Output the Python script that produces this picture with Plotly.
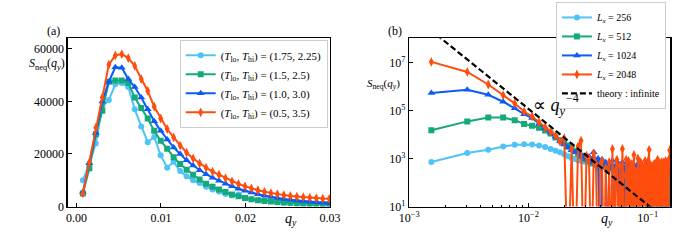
import plotly.graph_objects as go

# ---------------- data: panel (a) ----------------
q_a = [0.000767, 0.001534, 0.002301, 0.003068, 0.003835, 0.004602, 0.005369, 0.006136,
       0.006903, 0.00767, 0.008437, 0.009204, 0.009971, 0.010738, 0.011505, 0.012272,
       0.013039, 0.013806, 0.014573, 0.01534, 0.016107, 0.016874, 0.017641, 0.018408,
       0.019175, 0.019942, 0.020709, 0.021476, 0.022243, 0.02301, 0.023777, 0.024544,
       0.025311, 0.026078, 0.026845, 0.027612, 0.028379, 0.029146, 0.029913]

S_a_175 = [10000, 16400, 24000, 38000, 40500, 46500, 47000, 45500, 37000, 30500,
           24500, 26500, 19500, 14800, 17000, 13500, 11500, 10000, 9000, 7500,
           6500, 5700, 4800, 4200, 4600, 3300, 2800, 2400, 2600, 2000,
           1700, 1500, 1300, 1200, 1100, 1000, 1000, 900, 850]
S_a_15 = [5000, 14600, 27500, 36500, 47500, 48000, 48000, 47000, 41500, 37500,
          33500, 28800, 25000, 22000, 18800, 16200, 14000, 12100, 10300, 8700,
          7500, 6500, 5500, 4600, 3900, 3300, 2800, 2400, 2100, 1900,
          1700, 1550, 1400, 1300, 1200, 1100, 1050, 1000, 950]
S_a_10 = [5500, 16500, 28000, 40000, 47500, 53000, 52800, 48500, 45500, 41500,
          37000, 32500, 28800, 25500, 22500, 20000, 17600, 15600, 13800, 12300,
          11000, 9800, 8700, 7700, 6800, 6000, 5300, 4700, 4200, 3700,
          3300, 2900, 2600, 2300, 2050, 1800, 1600, 1400, 1250]
S_a_05 = [5000, 16800, 30000, 41500, 54000, 57500, 58000, 56500, 53500, 48500,
          44000, 38000, 33500, 29500, 26300, 23200, 20500, 18300, 16400, 14800,
          13300, 12100, 10800, 9600, 8600, 7700, 6900, 6200, 5600, 5100,
          4700, 4350, 4050, 3800, 3550, 3350, 3200, 3050, 2950]

labels_a = ["(<i>T</i><sub>lo</sub>, <i>T</i><sub>hi</sub>) = (1.75, 2.25)",
            "(<i>T</i><sub>lo</sub>, <i>T</i><sub>hi</sub>) = (1.5, 2.5)",
            "(<i>T</i><sub>lo</sub>, <i>T</i><sub>hi</sub>) = (1.0, 3.0)",
            "(<i>T</i><sub>lo</sub>, <i>T</i><sub>hi</sub>) = (0.5, 3.5)"]

# ---------------- data: panel (b) ----------------
q_b = [0.001534, 0.003068, 0.004602, 0.006136, 0.00767, 0.009204, 0.010738, 0.012272, 0.013806, 0.01534,
       0.016874, 0.018408, 0.019942, 0.021476, 0.02301, 0.024544, 0.026078, 0.027612, 0.029146, 0.03068,
       0.032214, 0.033748, 0.035282, 0.036816, 0.03835, 0.039884, 0.041418, 0.042952, 0.044486, 0.04602,
       0.047554, 0.049088, 0.050622, 0.052156, 0.05369, 0.055224, 0.056758, 0.058292, 0.059826, 0.06136,
       0.062894, 0.064428, 0.065962, 0.067496, 0.06903, 0.070564, 0.072098, 0.073632, 0.075166, 0.0767,
       0.078234, 0.079768, 0.081302, 0.082836, 0.08437, 0.085904, 0.087438, 0.088972, 0.090506, 0.09204,
       0.093574, 0.095108, 0.096642, 0.098176, 0.09971, 0.101244, 0.102778, 0.104312, 0.105846, 0.10738,
       0.108914, 0.110448, 0.111982, 0.113516, 0.11505, 0.116584, 0.118118, 0.119652, 0.121186, 0.12272,
       0.124254, 0.125788, 0.127322, 0.128856, 0.13039, 0.131924, 0.133458, 0.134992, 0.136526, 0.13806,
       0.139594, 0.141128, 0.142662, 0.144196, 0.14573, 0.147264, 0.148798, 0.150332, 0.151866, 0.1534]

S_b_256 = [710, 1700, 2300, 3150, 3700, 3900, 3800, 3500, 3000, 2500,
           2100, 1800, 1500, 1250, 1050, 950, 850, 800, 750, 700,
           650, 600, 620, 550, 500, 560, 480, 450, 520, 420,
           460, 400, 380, 440, 350, 400, 360, 420, 330, 380,
           350, 300, 400, 340, 280, 360, 320, 300, 380, 260,
           340, 300, 280, 360, 250, 320, 300, 270, 350, 240,
           310, 290, 260, 340, 230, 300, 280, 250, 320, 220,
           300, 270, 240, 310, 220, 290, 260, 230, 300, 210,
           280, 250, 230, 300, 200, 270, 240, 220, 290, 200,
           260, 240, 210, 280, 190, 250, 230, 200, 270, 190]
S_b_512 = [1.49e4, 3.5e4, 5.1e4, 5.1e4, 3.9e4, 2.75e4, 2.3e4, 1.9e4, 1.45e4, 1.1e4,
           7500, 5800, 4500, 3500, 2600, 2000, 1600, 1300, 1050, 900,
           800, 700, 650, 560, 620, 500, 540, 450, 480, 400,
           450, 380, 420, 350, 400, 330, 380, 300, 360, 320,
           -100, 340, 300, 280, 350, 260, 310, 290, -150, 320,
           270, 300, 250, 330, 280, -100, 300, 260, 240, 310,
           270, 250, 290, -120, 260, 300, 240, 280, 230, 270,
           -80, 260, 240, 290, 220, 250, 270, -100, 240, 260,
           230, 280, 210, 250, -90, 240, 260, 220, 250, 230,
           270, -110, 220, 250, 240, 210, 260, 230, -100, 240]
S_b_1024 = [5.3e5, 7.2e5, 4.5e5, 2.3e5, 1.23e5, 7.0e4, 4.8e4, 2.8e4, 1.8e4, 1.17e4,
            8000, 5200, 3800, 2800, 2200, 1800, 2000, 1300, 1100, 900,
            1200, 700, 1800, 600, 1000, -200, 900, 500, 700, -100,
            600, 400, 800, -300, 500, 300, 600, -200, 400, 700,
            300, -100, 500, 400, 200, 600, -300, 350, 500, 250,
            -200, 450, 300, 600, -100, 400, 250, 500, -300, 350,
            450, 200, 550, -150, 300, 400, 250, -200, 500, 350,
            200, 450, -100, 300, 550, 250, 400, -300, 350, 200,
            500, 300, -200, 450, 250, 380, -100, 300, 420, 260,
            -250, 350, 480, 220, 300, -150, 400, 280, 350, 450]
S_b_2048 = [1.05e7, 4.0e6, 1.2e6, 4.3e5, 1.95e5, 9.0e4, 5.6e4, 3.2e4, 2.0e4, 1.3e4,
            9000, 5000, 7000, -800, 2500, -500, 3200, 5500, -400, 1300,
            1000, -300, 1600, 600, -200, 500, 800, -300, 400, -100,
            700, -400, 2500, -200, 300, 900, -500, 500, -300, 2500,
            200, -400, 900, -200, 800, -600, 400, 600, -300, 1400,
            -100, 300, -500, 1000, 200, -300, 700, -200, 500, -400,
            300, 800, -600, 400, -200, 800, 2300, -300, 500, -100,
            500, -400, 300, 600, -500, 600, 200, -300, 900, -200,
            400, 600, -400, 250, 700, -300, 500, 700, -100, 300,
            -500, 800, 400, -200, 700, 300, -400, 900, 500, 2200]

labels_b = ["<i>L</i><sub><i>x</i></sub> = 256", "<i>L</i><sub><i>x</i></sub> = 512",
            "<i>L</i><sub><i>x</i></sub> = 1024", "<i>L</i><sub><i>x</i></sub> = 2048"]

theory_q = [0.0017, 0.12]
theory_S = [1.40e8, 5.64]

colors = ["#4FC3F7", "#14A97A", "#0B5CF5", "#FF4D0D"]
symbols = ["circle", "square", "triangle-up", "diamond-tall"]
msizes = [6, 6, 7, 7]

FONT = "Liberation Serif"

W, H = 692, 242
def fx(px):
    return px / W
def fy(py):
    return 1 - py / H

fig = go.Figure()

series_a = [S_a_175, S_a_15, S_a_10, S_a_05]
for s, lab, c, sym, ms in zip(series_a, labels_a, colors, symbols, msizes):
    fig.add_trace(go.Scatter(x=q_a, y=s, mode="lines+markers", name=lab,
                             line=dict(color=c, width=2),
                             marker=dict(symbol=sym, size=ms, color=c),
                             xaxis="x", yaxis="y", legend="legend"))

series_b = [S_b_256, S_b_512, S_b_1024, S_b_2048]
for s, lab, c, sym, ms in zip(series_b, labels_b, colors, symbols, msizes):
    yplot = [v if v > 0 else 1e-2 for v in s]  # non-positive values clipped like matplotlib
    fig.add_trace(go.Scatter(x=q_b, y=yplot, mode="lines+markers", name=lab,
                             line=dict(color=c, width=2),
                             marker=dict(symbol=sym, size=ms, color=c),
                             xaxis="x2", yaxis="y2", legend="legend2"))

fig.add_trace(go.Scatter(x=theory_q, y=theory_S, mode="lines", name="theory : infinite",
                         line=dict(color="black", width=2.2, dash="6px,3px"),
                         xaxis="x2", yaxis="y2", legend="legend2"))

axis_common = dict(showline=True, linecolor="black", linewidth=1.3, mirror=True,
                   ticks="inside", ticklen=4, tickcolor="black", showgrid=False, zeroline=False,
                   tickfont=dict(family=FONT, size=12, color="black"))

ydom = [fy(212.7), fy(39.5)]
fig.update_layout(
    width=W, height=H,
    margin=dict(l=0, r=0, t=0, b=0),
    paper_bgcolor="white", plot_bgcolor="white",
    font=dict(family=FONT, size=12, color="black"),
    xaxis=dict(domain=[fx(59.5), fx(330)], range=[-0.00103, 0.03],
               tickvals=[0.0, 0.01, 0.02, 0.03], ticktext=["0.00", "0.01", "0.02", "0.03"],
               anchor="y", **axis_common),
    yaxis=dict(domain=ydom, range=[0, 64000],
               tickvals=[0, 20000, 40000, 60000], ticktext=["0", "20000", "40000", "60000"],
               anchor="x", **axis_common),
    xaxis2=dict(domain=[fx(411.7), fx(681)], type="log", range=[-3, -0.81],
                tickvals=[1e-3, 1e-2, 1e-1],
                ticktext=["10<sup>−3</sup>", "10<sup>−2</sup>", "10<sup>−1</sup>"],
                minor=dict(ticks="inside", ticklen=2, tickcolor="black",
                           tickvals=[2e-3, 3e-3, 4e-3, 5e-3, 6e-3, 7e-3, 8e-3, 9e-3,
                                     2e-2, 3e-2, 4e-2, 5e-2, 6e-2, 7e-2, 8e-2, 9e-2]),
                anchor="y2", **axis_common),
    yaxis2=dict(domain=ydom, type="log", range=[1, 8],
                tickvals=[1e1, 1e3, 1e5, 1e7],
                ticktext=["10<sup>1</sup>", "10<sup>3</sup>", "10<sup>5</sup>", "10<sup>7</sup>"],
                anchor="x2", **axis_common),
    legend=dict(x=fx(175), y=fy(41), xanchor="left", yanchor="top",
                bgcolor="white", bordercolor="#CCCCCC", borderwidth=1,
                font=dict(family=FONT, size=11), tracegroupgap=0,
                itemwidth=30),
    legend2=dict(x=fx(563), y=fy(2), xanchor="left", yanchor="top",
                 bgcolor="white", bordercolor="#CCCCCC", borderwidth=1,
                 font=dict(family=FONT, size=10), tracegroupgap=0,
                 itemwidth=30),
    showlegend=True,
)

ann = [
    dict(text="(a)", x=45, y=32),
    dict(text="(b)", x=397, y=32),
    dict(text="<i>S</i><sub>neq</sub>(<i>q</i><sub><i>y</i></sub>)", x=38, y=66),
    dict(text="<i>S</i><sub>neq</sub>(<i>q</i><sub><i>y</i></sub>)", x=385, y=86, size=11),
    dict(text="<i>q</i><sub><i>y</i></sub>", x=290, y=226, size=14),
    dict(text="<i>q</i><sub><i>y</i></sub>", x=616, y=226, size=14),
    dict(text="∝ <i>q</i><sub><i>y</i></sub>", x=556, y=110, size=18),
    dict(text="−4", x=580, y=101, size=12),
]
for a in ann:
    fig.add_annotation(text=a["text"], x=fx(a["x"]), y=fy(a["y"]), xref="paper", yref="paper",
                       showarrow=False, xanchor="center", yanchor="middle",
                       font=dict(family=FONT, size=a.get("size", 12), color="black"))

fig.write_html("out.html",
               config={"displayModeBar": False, "staticPlot": True},
               post_script="document.body.style.margin='0';document.body.style.overflow='hidden';")
